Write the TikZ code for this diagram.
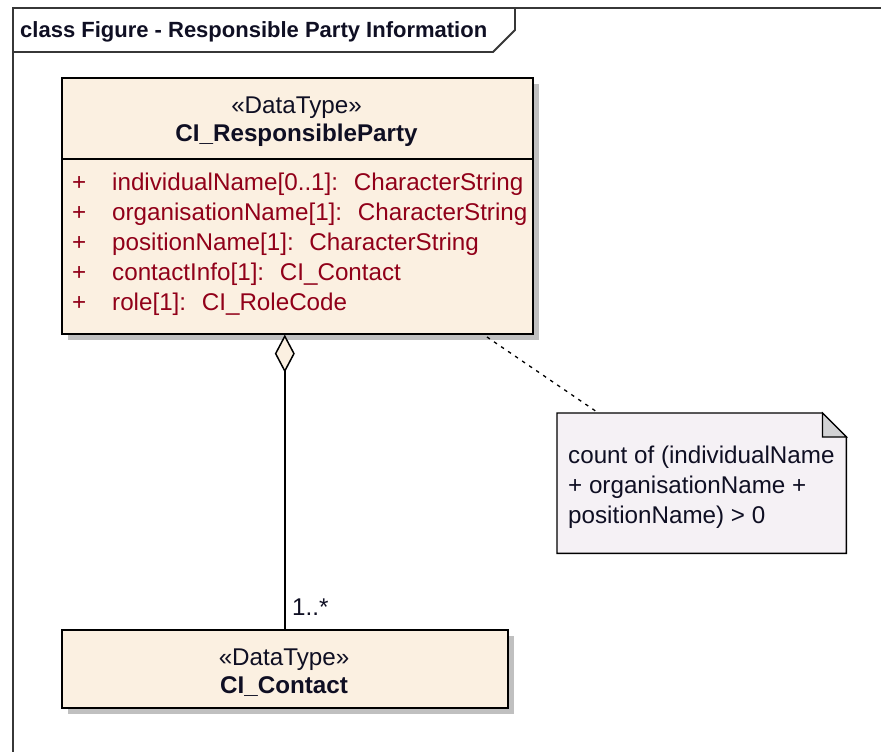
\documentclass[tikz,border=0pt]{standalone}
\usepackage{fontspec}
\setmainfont{Liberation Sans}
\usetikzlibrary{arrows.meta,shadows,calc}

\definecolor{classfill}{RGB}{251,240,225}
\definecolor{attrred}{RGB}{145,0,25}
\definecolor{notefill}{RGB}{245,241,245}
\definecolor{foldgray}{RGB}{210,210,212}
\definecolor{shadowgray}{RGB}{192,192,192}
\definecolor{framegray}{RGB}{55,55,55}
\definecolor{ink}{RGB}{15,15,35}

\newcommand\umlfont{\fontsize{24.2}{30}\selectfont}
\newcommand\umltitlefont{\fontsize{22}{28}\selectfont\bfseries}

\tikzset{
  frameline/.style={draw=framegray,line width=1.8pt},
  classbox/.style={draw=black,line width=1.6pt,fill=classfill,inner sep=0pt,
    drop shadow={shadow xshift=6pt,shadow yshift=-6pt,fill=shadowgray,opacity=1}},
  compline/.style={draw=black,line width=1.4pt},
  stereo/.style={font=\umlfont,text=ink,inner sep=0pt,anchor=base},
  classname/.style={font=\umlfont\bfseries,text=ink,inner sep=0pt,anchor=base},
  attrtext/.style={font=\umlfont,text=attrred,inner sep=0pt,anchor=base west},
  noteshape/.style={draw=black,line width=1.4pt,fill=notefill},
  foldshape/.style={draw=black,line width=1.2pt,fill=foldgray},
  notetext/.style={font=\umlfont,text=ink,inner sep=0pt,anchor=base west},
  notelink/.style={draw=black,line width=1.3pt,dash pattern=on 3.5pt off 5pt},
  assoc/.style={draw=black,line width=1.5pt},
  multtext/.style={font=\umlfont,text=ink,inner sep=0pt,anchor=base west},
}

\begin{document}
\begin{tikzpicture}[x=1pt,y=-1pt]
  \useasboundingbox[fill=white] (0,0) rectangle (881,752);

  % diagram frame with its name tab
  \draw[frameline] (881,8) -- (13,8) -- (13,752);
  \draw[frameline] (13,52) -- (493,52) -- (515,30) -- (515,8);
  \node[font=\umltitlefont,text=ink,inner sep=0pt,anchor=base west] (title) at (20,38)
    {class Figure - Responsible Party Information};

  % CI_ResponsibleParty
  \node[classbox,minimum width=471pt,minimum height=256pt,anchor=north west] (party) at (61,77) {};
  \draw[compline] (party.west |- 0,159) -- (party.east |- 0,159);
  \node[stereo] (partystereo) at (296.5,113.5) {«DataType»};
  \node[classname] (partyname) at (296.5,141.5) {CI\_ResponsibleParty};
  \foreach \attr [count=\i] in {
      {individualName[0..1]:~ CharacterString},
      {organisationName[1]:~ CharacterString},
      {positionName[1]:~ CharacterString},
      {contactInfo[1]:~ CI\_Contact},
      {role[1]:~ CI\_RoleCode}} {
    \node[attrtext] (sign\i) at (72,160+30*\i) {+};
    \node[attrtext] (attr\i) at (112,160+30*\i) {\attr};
  }

  % CI_Contact
  \node[classbox,minimum width=446pt,minimum height=78pt,anchor=north west] (contact) at (61,629) {};
  \node[stereo] (contactstereo) at (284,665) {«DataType»};
  \node[classname] (contactname) at (284,693) {CI\_Contact};

  % constraint note
  \node[minimum width=289pt,minimum height=140pt,inner sep=0pt,anchor=north west] (note) at (557,413) {};
  \draw[noteshape] (note.north west) -- ($(note.north east)+(-24,0)$) -- ($(note.north east)+(0,24)$)
    -- (note.south east) -- (note.south west) -- cycle;
  \draw[foldshape] ($(note.north east)+(-24,0)$) -- ($(note.north east)+(-24,24)$)
    -- ($(note.north east)+(0,24)$) -- cycle;
  \node[notetext] (noteline1) at (568,463) {count of (individualName};
  \node[notetext] (noteline2) at (568,493) {+ organisationName +};
  \node[notetext] (noteline3) at (568,523) {positionName) > 0};

  % note attachment
  \coordinate (linkstart) at (487,337);
  \coordinate (linkend) at (597,412);
  \draw[notelink] (linkstart) -- (linkend);

  % aggregation
  \draw[assoc,{Diamond[fill=classfill,length=38pt,width=20pt,line width=1.5pt]}-]
    (contact.north |- party.south) -- (contact.north);
  \node[multtext] (mult) at (292,615) {1..*};
\end{tikzpicture}
\end{document}
